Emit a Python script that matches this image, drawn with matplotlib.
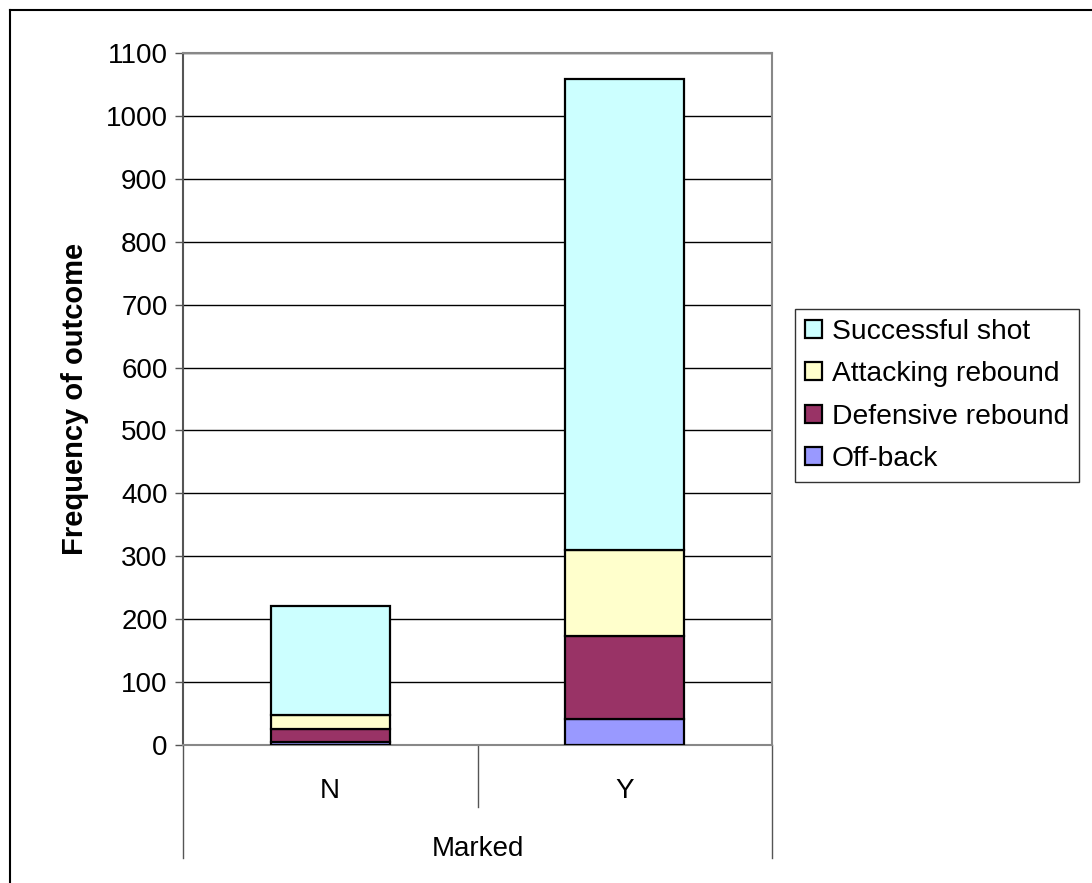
import matplotlib.pyplot as plt
from matplotlib.lines import Line2D

plt.rcParams['font.family'] = ['Liberation Sans', 'DejaVu Sans']

# Data
categories = ['N', 'Y']
off_back = [4, 41]
defensive = [22, 132]
attacking = [21, 137]
successful = [174, 748]
series = ['Off-back', 'Defensive rebound', 'Attacking rebound', 'Successful shot']
colors = ['#9999FF', '#993366', '#FFFFCC', '#CCFFFF']
y_ticks = list(range(0, 1101, 100))

W, H = 1092, 883
fig = plt.figure(figsize=(W / 100, H / 100), dpi=100)
ax = fig.add_axes([183 / W, (H - 745) / H, 589 / W, 692 / H])

x = list(range(len(categories)))
bottom = [0] * len(categories)
handles = []
for vals, name, col in zip([off_back, defensive, attacking, successful], series, colors):
    b = ax.bar(x, vals, width=0.404, bottom=bottom, color=col,
               edgecolor='black', linewidth=1.6, label=name, zorder=3)
    handles.append(b)
    bottom = [p + v for p, v in zip(bottom, vals)]

ax.set_xlim(-0.5, len(categories) - 0.5)
ax.set_ylim(0, 1100)
ax.set_yticks(y_ticks)
ax.tick_params(axis='y', labelsize=20, length=6, width=1, color='#555555', pad=5)
ax.yaxis.grid(True, color='black', linewidth=1, zorder=0)
for s in ax.spines.values():
    s.set_color('#888888')
    s.set_linewidth(1.5)
ax.spines['left'].set_color('#555555')

# category labels (two-level axis like Excel)
ax.set_xticks([])
for xi, c in zip(x, categories):
    ax.text(xi, -0.066, c, transform=ax.get_xaxis_transform(), ha='center', va='center', fontsize=20)
ax.text(0.5, -0.15, 'Marked', transform=ax.transAxes, ha='center', va='center', fontsize=20)
for xb in [-0.5, len(categories) - 0.5]:
    ax.add_line(Line2D([xb, xb], [0, -0.163], transform=ax.get_xaxis_transform(),
                       color='#555555', linewidth=1, clip_on=False))
for xb in range(len(categories) - 1):
    ax.add_line(Line2D([xb + 0.5, xb + 0.5], [0, -0.09], transform=ax.get_xaxis_transform(),
                       color='#555555', linewidth=1, clip_on=False))

ax.set_ylabel('Frequency of outcome', fontsize=21, fontweight='bold', labelpad=12)

leg = fig.legend(handles[::-1], series[::-1], loc='upper left',
                 bbox_to_anchor=(795 / W, 1 - 309 / H), fontsize=20.3,
                 frameon=True, fancybox=False, edgecolor='black',
                 handlelength=0.6, handleheight=0.6, handletextpad=0.35,
                 borderpad=0.35, labelspacing=0.58, borderaxespad=0)
leg.get_frame().set_linewidth(1)

# chart area border (top and left visible)
fig.add_artist(Line2D([10 / W, 1], [1 - 10 / H, 1 - 10 / H], color='black', linewidth=1.5))
fig.add_artist(Line2D([10 / W, 10 / W], [0, 1 - 10 / H], color='black', linewidth=1.5))

fig.savefig('out.png', dpi=100)
